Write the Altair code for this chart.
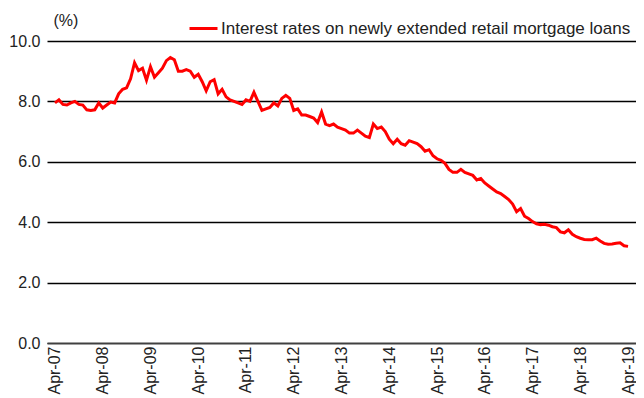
import altair as alt
import pandas as pd

# Monthly rates, Apr-2007 .. Apr-2019 (145 months)
rates = [
    7.95, 8.05, 7.90, 7.88, 7.95, 8.00, 7.90, 7.88, 7.72, 7.70, 7.72, 7.95,
    7.78, 7.88, 7.98, 7.95, 8.25, 8.40, 8.45, 8.75, 9.28, 9.02, 9.10, 8.70,
    9.15, 8.80, 8.95, 9.10, 9.35, 9.45, 9.38, 9.00, 9.00, 9.05, 9.00, 8.80,
    8.90, 8.65, 8.35, 8.65, 8.72, 8.25, 8.40, 8.15, 8.05, 8.00, 7.95, 7.90,
    8.05, 8.00, 8.30, 8.00, 7.70, 7.75, 7.80, 7.95, 7.85, 8.10, 8.20, 8.10,
    7.70, 7.75, 7.55, 7.55, 7.50, 7.45, 7.30, 7.65, 7.25, 7.20, 7.25, 7.15,
    7.10, 7.05, 6.95, 6.95, 7.05, 6.95, 6.85, 6.80, 7.25, 7.10, 7.15, 7.00,
    6.75, 6.60, 6.75, 6.60, 6.55, 6.70, 6.65, 6.60, 6.50, 6.35, 6.40, 6.20,
    6.10, 6.05, 5.95, 5.75, 5.65, 5.65, 5.75, 5.65, 5.60, 5.55, 5.40, 5.45,
    5.30, 5.20, 5.10, 5.00, 4.95, 4.85, 4.75, 4.60, 4.35, 4.45, 4.20, 4.12,
    4.02, 3.95, 3.92, 3.93, 3.90, 3.85, 3.82, 3.68, 3.65, 3.75, 3.60, 3.52,
    3.47, 3.43, 3.42, 3.42, 3.47, 3.38, 3.30, 3.27, 3.28, 3.30, 3.32, 3.22,
    3.20,
]
months = list(range(len(rates)))
tick_labels = ["Apr-07", "Apr-08", "Apr-09", "Apr-10", "Apr-11", "Apr-12", "Apr-13",
               "Apr-14", "Apr-15", "Apr-16", "Apr-17", "Apr-18", "Apr-19"]
y_ticks = [0, 2, 4, 6, 8, 10]
series_name = "Interest rates on newly extended retail mortgage loans"

df = pd.DataFrame({"m": months, "rate": rates, "series": series_name})

FONT = "Liberation Sans"
label_arr = "[" + ",".join("'" + t + "'" for t in tick_labels) + "]"

chart = alt.Chart(df).mark_line(strokeWidth=3, interpolate="linear").encode(
    x=alt.X(
        "m:Q",
        scale=alt.Scale(domain=[-2, 146], nice=False, zero=False),
        axis=alt.Axis(
            values=[12 * i for i in range(len(tick_labels))],
            labelExpr=label_arr + "[round(datum.value / 12)]",
            labelAngle=270, labelAlign="right", labelBaseline="middle",
            labelPadding=3, ticks=False, grid=False,
            domain=True, domainColor="#404040", domainWidth=1.5,
            labelFont=FONT, labelFontSize=16, labelColor="#222",
            labelOverlap=False, labelFlush=False, title=None,
        ),
    ),
    y=alt.Y(
        "rate:Q",
        scale=alt.Scale(domain=[0, 10], nice=False),
        axis=alt.Axis(
            values=y_ticks, format=".1f", ticks=False, domain=False,
            grid=True, gridColor="#000000", gridWidth=1.3,
            labelFont=FONT, labelFontSize=16, labelColor="#222", labelPadding=7,
            title="(%)", titleAngle=0, titleAlign="left", titleBaseline="middle",
            titleX=6, titleY=-21, titleFont=FONT, titleFontSize=16,
            titleFontWeight="normal", titleColor="#222",
        ),
    ),
    color=alt.Color(
        "series:N",
        scale=alt.Scale(range=["#FF0000"]),
        legend=alt.Legend(
            orient="none", legendX=141, legendY=-28, title=None,
            symbolType="stroke", symbolSize=784, symbolStrokeWidth=3,
            labelFont=FONT, labelFontSize=17, labelColor="#222",
            labelOffset=2, padding=0, labelLimit=600,
        ),
    ),
).properties(
    width=589, height=302,
    autosize=alt.AutoSizeParams(type="none"),
    padding={"left": 39, "top": 33, "right": 0, "bottom": 55},
).configure_view(stroke=None)

chart.save("out.html", embed_options={"renderer": "svg", "actions": False})
